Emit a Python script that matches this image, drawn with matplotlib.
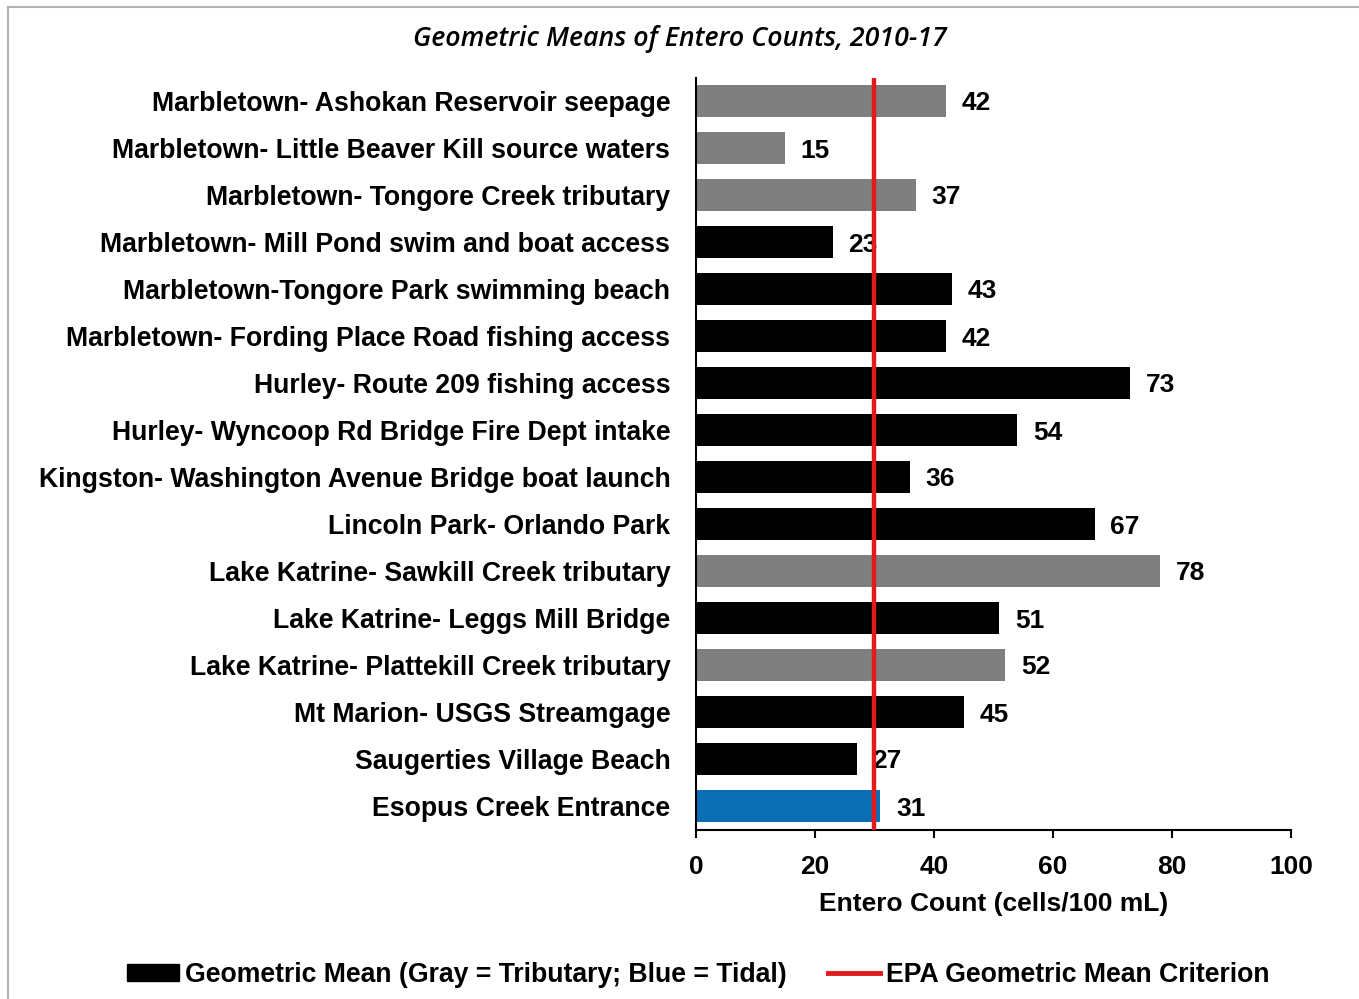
import matplotlib
matplotlib.use("Agg")
import matplotlib.pyplot as plt
from matplotlib.patches import Patch
from matplotlib.lines import Line2D

sites = [
    "Marbletown- Ashokan Reservoir seepage",
    "Marbletown- Little Beaver Kill source waters",
    "Marbletown- Tongore Creek tributary",
    "Marbletown- Mill Pond swim and boat access",
    "Marbletown-Tongore Park swimming beach",
    "Marbletown- Fording Place Road fishing access",
    "Hurley- Route 209 fishing access",
    "Hurley- Wyncoop Rd Bridge Fire Dept intake",
    "Kingston- Washington Avenue Bridge boat launch",
    "Lincoln Park- Orlando Park",
    "Lake Katrine- Sawkill Creek tributary",
    "Lake Katrine- Leggs Mill Bridge",
    "Lake Katrine- Plattekill Creek tributary",
    "Mt Marion- USGS Streamgage",
    "Saugerties Village Beach",
    "Esopus Creek Entrance",
]
geo_means = [42, 15, 37, 23, 43, 42, 73, 54, 36, 67, 78, 51, 52, 45, 27, 31]
site_types = ["trib", "trib", "trib", "main", "main", "main", "main", "main",
              "main", "main", "trib", "main", "trib", "main", "main", "tidal"]
epa_criterion = 30
x_ticks = [0, 20, 40, 60, 80, 100]

type_colors = {"trib": "#7f7f7f", "main": "#000000", "tidal": "#0a6eb4"}

plt.rcParams['font.family'] = ['Liberation Sans', 'DejaVu Sans']

fig = plt.figure(figsize=(13.59, 9.99), dpi=100)
ax = fig.add_axes([696/1359, 1-829.5/999, (1291-696)/1359, (829.5-77.5)/999])

ypos = list(range(len(sites)))
colors = [type_colors[t] for t in site_types]
ax.barh(ypos, geo_means, height=0.68, color=colors, zorder=2)
for y, v in zip(ypos, geo_means):
    ax.text(v + 2.6, y, f"{v}", va="center_baseline", ha="left", fontsize=19,
            fontweight="bold", zorder=3)
ax.axvline(epa_criterion, color="#e31a1c", lw=3.2, zorder=4)

ax.set_ylim(len(sites) - 0.5, -0.5)
ax.set_xlim(0, 100)
ax.set_yticks(ypos)
ax.set_yticklabels(sites, fontsize=19.2, fontweight="bold", va="center_baseline")
ax.tick_params(axis="y", length=0, pad=18.5)
ax.set_xticks(x_ticks)
ax.set_xticklabels([str(t) for t in x_ticks], fontsize=19, fontweight="bold")
ax.tick_params(axis="x", length=6, width=1.5, direction="out", pad=12)
for s in ["top", "right"]:
    ax.spines[s].set_visible(False)
ax.spines["left"].set_linewidth(1.5)
ax.spines["bottom"].set_linewidth(1.5)
ax.set_xlabel("Entero Count (cells/100 mL)", fontsize=19, fontweight="bold", labelpad=10)

fig.text(680/1359, 1-39/999, "Geometric Means of Entero Counts, 2010-17",
         ha="center", va="center", fontsize=19.3, fontstyle="italic",
         fontweight="semibold", family=["Open Sans", "DejaVu Sans"])

# legend
handles = [Patch(facecolor="black", edgecolor="black"),
           Line2D([0], [0], color="#e31a1c", lw=3.5)]
labels = ["Geometric Mean (Gray = Tributary; Blue = Tidal)", "EPA Geometric Mean Criterion"]
leg = fig.legend(handles, labels, loc="center", bbox_to_anchor=(698/1359, 1-975/999),
                 ncol=2, frameon=False, prop={"size": 19.2, "weight": "bold"},
                 handlelength=1.95, handleheight=0.6, handletextpad=0.22,
                 columnspacing=1.55, borderpad=0, borderaxespad=0)

# outer border
fig.add_artist(Line2D([8/1359, 8/1359], [0, 1-7/999], transform=fig.transFigure,
                      color="#b3b3b3", lw=1.5))
fig.add_artist(Line2D([8/1359, 1], [1-7/999, 1-7/999], transform=fig.transFigure,
                      color="#b3b3b3", lw=1.5))

fig.savefig("out.png", dpi=100)
